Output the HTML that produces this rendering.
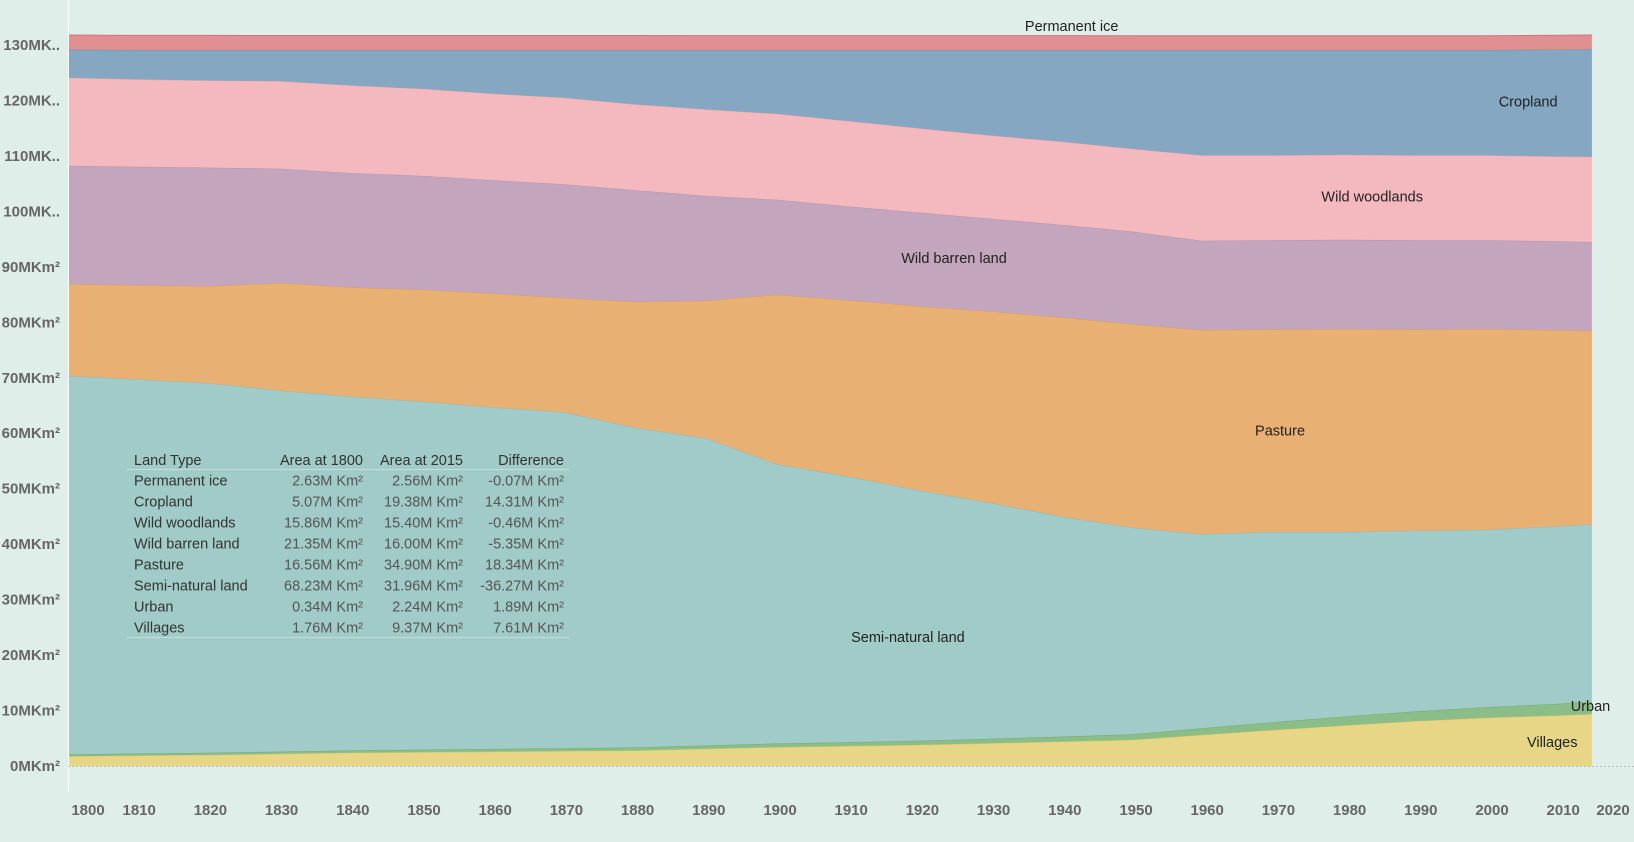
<!DOCTYPE html>
<html><head><meta charset="utf-8"><style>
html,body{margin:0;padding:0;background:#e0eeea;}
svg{display:block;font-family:"Liberation Sans",sans-serif;}
.tick{fill:#666;font-size:15px;font-weight:bold;}
.lbl{fill:#222;font-size:14.5px;}
.tb{fill:#333;font-size:14.5px;}
.tn{fill:#555;font-size:14.5px;}
</style></head><body>
<svg id="chart" width="1634" height="842" viewBox="0 0 1634 842">
<rect x="0" y="0" width="1634" height="842" fill="#e0eeea"/>
<g id="areas"></g>
<line x1="68.5" y1="0" x2="68.5" y2="792" stroke="#ffffff" stroke-width="1"/>
<line x1="68" y1="766.5" x2="1634" y2="766.5" stroke="#bbbbbb" stroke-dasharray="2,2"/>
<g id="yticks"></g>
<g id="xticks"></g>
<g id="labels"></g>
<g id="table"></g>
</svg>
<script>
const years=[1800,1810,1820,1830,1840,1850,1860,1870,1880,1890,1900,1910,1920,1930,1940,1950,1960,1970,1980,1990,2000,2010,2015];
const villages=[1.76,1.9,2.0,2.2,2.4,2.5,2.6,2.7,2.8,3.1,3.4,3.6,3.8,4.1,4.4,4.7,5.6,6.5,7.3,8.1,8.7,9.1,9.37];
const urban=[0.34,0.36,0.38,0.4,0.42,0.45,0.48,0.5,0.55,0.6,0.65,0.7,0.75,0.8,0.9,1.0,1.2,1.4,1.6,1.75,1.9,2.1,2.24];
const seminatural=[68.23,67.44,66.62,65.1,63.78,62.75,61.62,60.6,57.65,55.4,50.35,47.9,45.15,42.6,39.7,37.3,35.0,34.3,33.3,32.55,32.0,32.0,31.96];
const pasture=[16.56,17.0,17.5,19.4,19.7,20.2,20.5,20.6,22.7,24.8,30.6,31.8,33.2,34.5,35.9,36.7,36.8,36.5,36.6,36.3,36.2,35.4,34.9];
const barren=[21.35,21.35,21.4,20.6,20.6,20.5,20.4,20.5,20.1,18.9,17.1,16.9,16.9,16.7,16.7,16.7,16.1,16.1,16.1,16.1,16.0,16.0,16.0];
const woodlands=[15.86,15.75,15.7,15.8,15.8,15.7,15.6,15.6,15.5,15.6,15.5,15.4,15.2,15.0,15.0,14.9,15.4,15.3,15.3,15.3,15.3,15.3,15.4];
const cropland=[5.07,5.3,5.5,5.6,6.4,7.0,7.9,8.6,9.8,10.7,11.5,12.8,14.1,15.4,16.5,17.8,19.0,19.0,18.9,19.0,19.0,19.3,19.38];
const ice=[2.63,2.63,2.63,2.62,2.62,2.62,2.61,2.61,2.61,2.6,2.6,2.6,2.59,2.59,2.59,2.58,2.58,2.58,2.57,2.57,2.57,2.56,2.56];
const yTicks=[0,10,20,30,40,50,60,70,80,90,100,110,120,130];
const xTicks=[1800,1810,1820,1830,1840,1850,1860,1870,1880,1890,1900,1910,1920,1930,1940,1950,1960,1970,1980,1990,2000,2010,2020];
const seriesNames=["villages","urban","semi-natural-land","pasture","wild-barren-land","wild-woodlands","cropland","permanent-ice"];
const seriesData=[villages,urban,seminatural,pasture,barren,woodlands,cropland,ice];
const fills=["#e8d687","#8bbd88","#a0cbc8","#e8b073","#c3a6bd","#f4b9bf","#85a7c2","#e09090"];
const strokes=["#d8c270","#6fae6c","#8dbcb9","#d9a060","#b493ae","#e8a3aa","#6f93b2","#d37275"];
const labelTexts=["Villages","Urban","Semi-natural land","Pasture","Wild barren land","Wild woodlands","Cropland","Permanent ice"];
const labelYears=[2009.4,2014.8,1918.5,1971,1925,1984,2006,1941.6];
const labelVals=[4.3,10.8,23.3,60.5,91.6,102.7,119.8,133.4];
const tableRows=[["Permanent ice","2.63M Km²","2.56M Km²","-0.07M Km²"],["Cropland","5.07M Km²","19.38M Km²","14.31M Km²"],["Wild woodlands","15.86M Km²","15.40M Km²","-0.46M Km²"],["Wild barren land","21.35M Km²","16.00M Km²","-5.35M Km²"],["Pasture","16.56M Km²","34.90M Km²","18.34M Km²"],["Semi-natural land","68.23M Km²","31.96M Km²","-36.27M Km²"],["Urban","0.34M Km²","2.24M Km²","1.89M Km²"],["Villages","1.76M Km²","9.37M Km²","7.61M Km²"]];

const NS="http://www.w3.org/2000/svg";
function x(yr){return 68+(yr-1800)*7.088;}
function xl(yr){return 68+(yr-1800)*7.12;}
function y(v){return 766-v*5.546;}
function mk(tag,attrs,parent){const e=document.createElementNS(NS,tag);for(const k in attrs)e.setAttribute(k,attrs[k]);parent.appendChild(e);return e;}

const areas=document.getElementById('areas');
let base=years.map(()=>0);
seriesData.forEach((s,i)=>{
  const top=base.map((b,j)=>b+s[j]);
  let d="M"+years.map((yr,j)=>x(yr).toFixed(1)+","+y(top[j]).toFixed(1)).join("L");
  for(let j=years.length-1;j>=0;j--)d+="L"+x(years[j]).toFixed(1)+","+y(base[j]).toFixed(1);
  d+="Z";
  const p=mk('path',{d:d,fill:fills[i]},areas);
  
  
  const l=mk('path',{d:"M"+years.map((yr,j)=>x(yr).toFixed(1)+","+y(top[j]).toFixed(1)).join("L"),fill:"none",stroke:strokes[i],"stroke-width":1},areas);
  
  
  base=top;
});

const yt=document.getElementById('yticks');
yTicks.forEach(v=>{
  const t=mk('text',{x:60,y:y(v)+5,"text-anchor":"end",class:"tick"},yt);
  
  
  if(v>=100){t.textContent=v+"MK..";}else{t.textContent=v+"MKm²";}
});
const xt=document.getElementById('xticks');
xTicks.forEach(v=>{
  let px=xl(v);
  if(v===1800)px=88;
  if(v===2020)px=1613;
  const t=mk('text',{x:px,y:815,"text-anchor":"middle",class:"tick"},xt);
  
  
  t.textContent=v;
});
const lg=document.getElementById('labels');
labelTexts.forEach((s,i)=>{
  const t=mk('text',{x:x(labelYears[i]),y:y(labelVals[i])+5,"text-anchor":"middle",class:"lbl"},lg);
  
  
  t.textContent=s;
});
const tb=document.getElementById('table');
const hdr=["Land Type","Area at 1800","Area at 2015","Difference"];
const colX=[134,363,463,564];
hdr.forEach((h,c)=>{
  const t=mk('text',{x:colX[c],y:465,"text-anchor":c===0?"start":"end",class:"tb"},tb);
  
  
  t.textContent=h;
});
const l1=mk('line',{x1:127,x2:569,y1:469.5,y2:469.5,stroke:"#c8dcd9","stroke-width":1},tb);


tableRows.forEach((r,i)=>{
  r.forEach((cell,c)=>{
    const t=mk('text',{x:colX[c],y:485.5+i*21,"text-anchor":c===0?"start":"end",class:c===0?"tb":"tn"},tb);
    
    
    t.textContent=cell;
  });
});
const l2=mk('line',{x1:127,x2:569,y1:637.5,y2:637.5,stroke:"#c8dcd9","stroke-width":1},tb);


</script>
</body></html>
